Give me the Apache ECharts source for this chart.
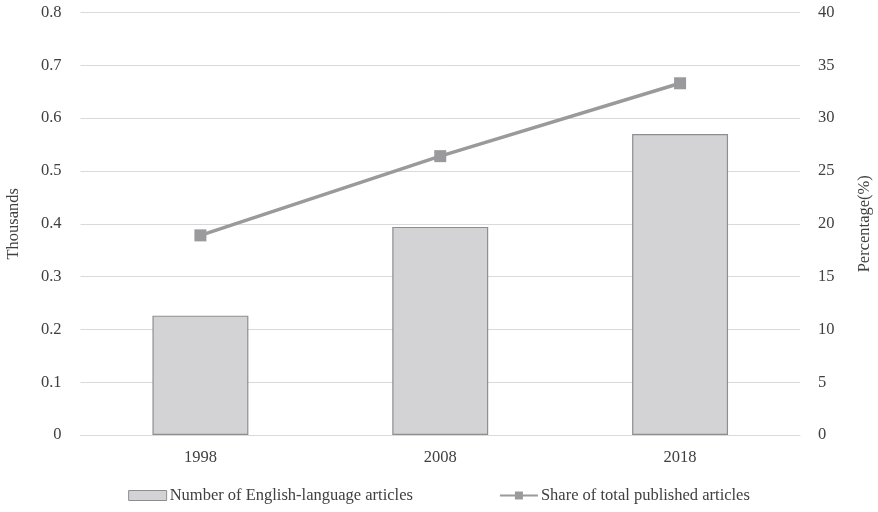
<!DOCTYPE html>
<html>
<head>
<meta charset="utf-8">
<script src="https://cdn.jsdelivr.net/npm/echarts@6/dist/echarts.min.js"></script>
<style>
  html, body { margin: 0; padding: 0; background: #fff; }
  #chart { width: 878px; height: 512px; }
</style>
</head>
<body>
<div id="chart"></div>
<script>
// Publication years shown on the category axis
const years = ['1998', '2008', '2018'];
// English-language articles, in thousands
const articles = [0.226, 0.394, 0.570];
// Share of all published articles, in percent
const share = [18.9, 26.4, 33.3];

const FONT = 'Liberation Serif';
const TEXT = '#404040';
const SIZE = 16.5;

const chart = echarts.init(document.getElementById('chart'), null, { renderer: 'canvas' });
chart.setOption({
  animation: false,
  textStyle: { fontFamily: FONT, color: TEXT },
  grid: {
    left: 80.5, right: 78, top: 12.5, bottom: 77,
    containLabel: false,
    outerBoundsMode: 'none'
  },
  legend: {
    bottom: 3,
    left: 'center',
    itemGap: 86,
    itemWidth: 38,
    itemHeight: 10,
    textStyle: { fontFamily: FONT, fontSize: SIZE, color: TEXT, padding: [0, 0, 0, -2] },
    data: [
      {
        name: 'Number of English-language articles',
        icon: 'rect',
        itemStyle: { color: '#d3d3d5', borderColor: '#8e8e90', borderWidth: 1 }
      },
      { name: 'Share of total published articles' }
    ]
  },
  xAxis: {
    type: 'category',
    data: years,
    axisLine: { show: true, lineStyle: { color: '#d9d9d9', width: 1 } },
    axisTick: { show: false },
    axisLabel: { fontFamily: FONT, fontSize: SIZE, color: TEXT, margin: 14 }
  },
  yAxis: [
    {
      type: 'value',
      min: 0, max: 0.8, interval: 0.1,
      name: 'Thousands',
      nameLocation: 'middle',
      nameGap: 58,
      nameTextStyle: { fontFamily: FONT, fontSize: SIZE, color: TEXT },
      axisLine: { show: false },
      axisTick: { show: false },
      splitLine: { lineStyle: { color: '#d9d9d9', width: 1 } },
      axisLabel: {
        fontFamily: FONT, fontSize: SIZE, color: TEXT, margin: 19,
        formatter: v => (v === 0 ? '0' : v.toFixed(1))
      }
    },
    {
      type: 'value',
      min: 0, max: 40, interval: 5,
      name: 'Percentage(%)',
      nameLocation: 'middle',
      nameGap: 56,
      nameTextStyle: { fontFamily: FONT, fontSize: SIZE, color: TEXT },
      axisLine: { show: false },
      axisTick: { show: false },
      splitLine: { show: false },
      axisLabel: { fontFamily: FONT, fontSize: SIZE, color: TEXT, margin: 18, align: 'left' }
    }
  ],
  series: [
    {
      name: 'Number of English-language articles',
      type: 'bar',
      yAxisIndex: 0,
      data: articles,
      barWidth: '40%',
      itemStyle: { color: '#d3d3d5', borderColor: '#8e8e90', borderWidth: 1.2 }
    },
    {
      name: 'Share of total published articles',
      type: 'line',
      yAxisIndex: 1,
      data: share,
      symbol: 'rect',
      symbolSize: 12,
      lineStyle: { color: '#9a9a9c', width: 3.5 },
      itemStyle: { color: '#9a9a9c' }
    }
  ]
});
</script>
</body>
</html>
